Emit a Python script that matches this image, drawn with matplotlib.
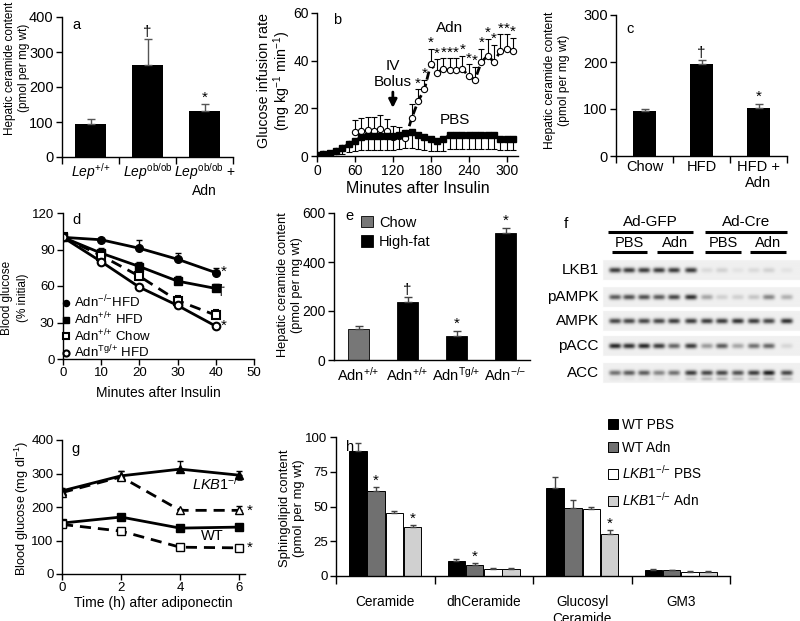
import numpy as np
import matplotlib.pyplot as plt

plt.rcParams['font.family'] = ['Liberation Sans', 'DejaVu Sans']
plt.rcParams['mathtext.fontset'] = 'custom'
plt.rcParams['mathtext.rm'] = 'Liberation Sans'
plt.rcParams['mathtext.it'] = 'Liberation Sans:italic'
plt.rcParams['font.size'] = 10
plt.rcParams['axes.linewidth'] = 1.0

# ---- data ----
# a
a_labels = [r'$\mathit{Lep}^{{+}/{+}}$', r'$\mathit{Lep}^{\mathrm{ob/ob}}$',
            r'$\mathit{Lep}^{\mathrm{ob/ob}}$ +' + '\nAdn']
a_vals = [93, 263, 132]
a_err = [17, 75, 20]
a_marks = ['', '†', '*']

# b
b_time = np.arange(0, 320, 10)
b_pbs = [0.5, 0.7, 1.2, 2.2, 3.5, 5, 6.5, 8, 8.5, 8.5, 8.5, 8.5, 8.5, 9, 9.8, 10,
         9, 8, 7, 6.5, 7, 9, 9, 9, 9, 9, 9, 9, 9, 7, 7, 7]
b_pbs_err = [0.3, 0.4, 0.8, 1.5, 2.5, 3.5, 4.5, 5.5, 6, 6, 6, 6, 6, 6, 6.5, 6.5,
             6, 5.5, 5, 4.5, 5, 6, 6, 6, 6, 6, 6, 6, 6, 4.5, 4.5, 4.5]
b_adn = [0.5, 0.7, 1.0, 2.0, 3.5, 5, 10, 10.5, 11, 10.5, 11.5, 10.5, 8, 8.5, 7.5,
         16, 23, 28, 38.5, 35, 36.5, 36, 36, 36.5, 33.5, 32, 39.5, 42, 39.5, 44, 45, 44]
b_adn_err = [0, 0, 0, 0, 0, 0, 5, 5.5, 5.5, 6, 5.5, 5, 4.5, 3.5, 3,
             6, 5, 4, 6.5, 5.5, 4.5, 5, 5, 5.5, 5, 5.5, 5.5, 7, 7, 7, 6, 5.5]
b_line_from = 140
b_star_from = 160

# c
c_labels = ['Chow', 'HFD', 'HFD +\nAdn']
c_vals = [95, 195, 102]
c_err = [6, 10, 9]
c_marks = ['', '†', '*']

# d
d_time = [0, 10, 20, 30, 40]
d_ko_hfd = [100, 98, 91, 82, 71]
d_ko_hfd_err = [0, 0, 7, 5, 4]
d_wt_hfd = [100, 87, 76, 64, 58]
d_wt_hfd_err = [0, 4, 4, 4, 4]
d_wt_chow = [100, 85, 68, 48, 36]
d_wt_chow_err = [0, 0, 3, 4, 4]
d_tg_hfd = [100, 80, 59, 44, 27]
d_tg_hfd_err = [0, 0, 0, 0, 0]

# e
e_labels = [r'Adn$^{{+}/{+}}$', r'Adn$^{{+}/{+}}$', r'Adn$^{\mathrm{Tg}/{+}}$', r'Adn$^{{-}/{-}}$']
e_vals = [127, 238, 100, 520]
e_err = [10, 20, 20, 20]
e_diet = ['Chow', 'High-fat', 'High-fat', 'High-fat']
e_marks = ['', '†', '*', '*']

# f (band darkness per lane, 0..1)
f_rows = ['LKB1', 'pAMPK', 'AMPK', 'pACC', 'ACC']
f_lkb1 = [0.85, 0.85, 0.85, 0.85, 0.85, 0.85, 0.10, 0.14, 0.06, 0.10, 0.14, 0.06]
f_pampk = [0.70, 0.75, 0.75, 0.70, 0.80, 0.90, 0.35, 0.15, 0.15, 0.20, 0.50, 0.30]
f_ampk = [0.80, 0.80, 0.80, 0.80, 0.85, 0.85, 0.85, 0.85, 0.90, 0.85, 0.80, 0.90]
f_pacc = [0.95, 0.90, 0.95, 0.85, 0.65, 0.85, 0.40, 0.70, 0.35, 0.60, 0.65, 0.12]
f_acc = [0.60, 0.70, 0.70, 0.50, 0.60, 0.85, 0.80, 0.80, 0.75, 0.85, 1.00, 0.80]
f_acc_low = [0.05, 0.05, 0.05, 0.05, 0.05, 0.15, 0.25, 0.25, 0.20, 0.20, 0.25, 0.20]

# g
g_time = [0, 2, 4, 6]
g_wt_pbs = [152, 170, 137, 140]
g_wt_adn = [148, 128, 80, 78]
g_ko_pbs = [248, 293, 313, 295]
g_ko_pbs_err = [10, 15, 24, 13]
g_ko_adn = [243, 290, 190, 190]
g_ko_adn_err = [12, 18, 5, 13]

# h
h_groups = ['Ceramide', 'dhCeramide', 'Glucosyl\nCeramide', 'GM3']
h_series = ['WT PBS', 'WT Adn', r'$\mathit{LKB1}^{{-}/{-}}$ PBS', r'$\mathit{LKB1}^{{-}/{-}}$ Adn']
h_wt_pbs = [90, 11, 63, 4.5]
h_wt_pbs_err = [6, 1, 8, 0.5]
h_wt_adn = [61, 8, 49, 4]
h_wt_adn_err = [3, 1, 6, 0.4]
h_ko_pbs = [45, 5, 48, 3]
h_ko_pbs_err = [2, 0.5, 2, 0.3]
h_ko_adn = [35, 5, 30, 3]
h_ko_adn_err = [2, 0.5, 3, 0.3]
h_marks = [['', '', '', ''], ['*', '*', '', ''], ['', '', '', ''], ['*', '', '*', '']]

W, H = 800, 621
fig = plt.figure(figsize=(W / 100, H / 100), dpi=100)


def box(l, t, r, b):
    return [l / W, 1 - b / H, (r - l) / W, (b - t) / H]


def style(ax, size):
    for s in ['top', 'right']:
        ax.spines[s].set_visible(False)
    ax.tick_params(direction='out', length=4, width=1, labelsize=size, pad=2)


def ylab(x, y, text, size, ls=1.2):
    # y label placed by its centre in pixel coordinates
    fig.text(x / W, 1 - y / H, text, rotation=90, ha='center', va='center',
             fontsize=size, linespacing=ls, multialignment='center')


def cat_axis(ax, labels, size, ticklen=5, pad=3):
    n = len(labels)
    ax.set_xlim(-0.5, n - 0.5)
    ax.set_xticks(np.arange(n + 1) - 0.5)
    ax.set_xticklabels([])
    ax.set_xticks(np.arange(n), minor=True)
    ax.set_xticklabels(labels, minor=True)
    ax.tick_params(axis='x', which='minor', length=0, pad=pad, labelsize=size)
    ax.tick_params(axis='x', which='major', length=ticklen)


def marks(ax, x, tops, sym, dy, size=11):
    for xi, t, s in zip(x, tops, sym):
        if s:
            ax.text(xi, t + dy, s, ha='center', va='center', fontsize=size)


# ---- a ----
ax = fig.add_axes(box(62, 17, 233, 157))
style(ax, 10.5)
xa = np.arange(len(a_vals))
ax.bar(xa, a_vals, 0.56, color='black', yerr=[[0] * 3, a_err], capsize=3,
       error_kw=dict(elinewidth=1, capthick=1, ecolor='#555555'))
cat_axis(ax, a_labels, 10)
ax.set_ylim(0, 400)
ax.set_yticks([0, 100, 200, 300, 400])
marks(ax, xa, np.add(a_vals, a_err), a_marks, 18)
ylab(17, 68, 'Hepatic ceramide content\n(pmol per mg wt)', 8.5, 1.3)
ax.text(0.06, 0.94, 'a', transform=ax.transAxes, ha='left', va='center', fontsize=10.5)

# ---- b ----
ax = fig.add_axes(box(317, 13, 518, 156))
style(ax, 10)
z = np.zeros(len(b_time))
late = b_time >= b_line_from
ax.plot(b_time[late], np.array(b_adn)[late], ls=(0, (3, 1.5)), lw=2, color='black')
ax.errorbar(b_time, b_adn, yerr=[z, b_adn_err], fmt='o', color='black', mfc='white',
            mec='black', ms=4.5, mew=0.8, elinewidth=0.8, capsize=2, capthick=0.8)
ax.errorbar(b_time, b_pbs, yerr=[b_pbs_err, z], fmt='s-', lw=1.8,
            color='black', ms=4.2, elinewidth=0.8, capsize=2, capthick=0.8)
for t, v, e in zip(b_time, b_adn, b_adn_err):
    if t >= b_star_from:
        ax.text(t, v + e + 2.5, '*', ha='center', va='center', fontsize=11)
ax.set_xlim(0, 318)
ax.set_ylim(0, 60)
ax.set_xticks([0, 60, 120, 180, 240, 300])
ax.set_yticks([0, 20, 40, 60])
ax.set_xlabel('Minutes after Insulin', labelpad=2, fontsize=11.5)
ylab(275, 81, 'Glucose infusion rate\n(mg kg$^{-1}$ min$^{-1}$)', 10.3, 1.0)
ax.annotate('', xy=(120, 19), xytext=(120, 28),
            arrowprops=dict(arrowstyle='-|>', lw=2, color='black', mutation_scale=12))
ax.text(120, 34.5, 'IV\nBolus', ha='center', va='center', fontsize=11)
ax.text(210, 53.5, 'Adn', ha='center', va='center', fontsize=11)
ax.text(218, 15, 'PBS', ha='center', va='center', fontsize=11)
ax.text(0.08, 0.95, 'b', transform=ax.transAxes, ha='left', va='center', fontsize=10.5)

# ---- c ----
ax = fig.add_axes(box(616, 15, 787, 156))
style(ax, 10.5)
xc = np.arange(len(c_vals))
ax.bar(xc, c_vals, 0.41, color='black', yerr=[[0] * 3, c_err], capsize=3,
       error_kw=dict(elinewidth=1, capthick=1, ecolor='#555555'))
cat_axis(ax, c_labels, 10.5)
ax.set_ylim(0, 300)
ax.set_yticks([0, 100, 200, 300])
marks(ax, xc, np.add(c_vals, c_err), c_marks, 15)
ylab(557, 80, 'Hepatic ceramide content\n(pmol per mg wt)', 8.7, 1.3)
ax.text(0.06, 0.9, 'c', transform=ax.transAxes, ha='left', va='center', fontsize=10.5)

# ---- d ----
ax = fig.add_axes(box(63, 213, 254, 359))
style(ax, 9.5)
kw = dict(color='black', lw=2, capsize=2, elinewidth=1, capthick=1, ms=5.5)
z5 = [0] * 5
ax.errorbar(d_time, d_ko_hfd, yerr=[z5, d_ko_hfd_err], fmt='o-', label=r'Adn$^{{-}/{-}}$HFD', **kw)
ax.errorbar(d_time, d_wt_hfd, yerr=[z5, d_wt_hfd_err], fmt='s-', label=r'Adn$^{{+}/{+}}$ HFD', **kw)
ax.errorbar(d_time, d_wt_chow, yerr=[z5, d_wt_chow_err], fmt='s', ls=(0, (4, 2.5)),
            mfc='white', mew=1.5, label=r'Adn$^{{+}/{+}}$ Chow', **kw)
ax.errorbar(d_time, d_tg_hfd, yerr=[z5, d_tg_hfd_err], fmt='o-', mfc='white', mew=1.5,
            label=r'Adn$^{\mathrm{Tg}/{+}}$ HFD', **kw)
ax.text(42, 72, '*', ha='center', va='center', fontsize=11)
ax.text(41.5, 56, '†', ha='center', va='center', fontsize=11)
ax.text(42, 27, '*', ha='center', va='center', fontsize=11)
ax.set_xlim(0, 50)
ax.set_ylim(0, 120)
ax.set_xticks([0, 10, 20, 30, 40, 50])
ax.set_yticks([0, 30, 60, 90, 120])
ax.set_xlabel('Minutes after Insulin', labelpad=5, fontsize=10)
ylab(15, 298, 'Blood glucose\n(% initial)', 8.5, 1.35)
hd, lb = ax.get_legend_handles_labels()
hd = [h[0] for h in hd]
leg = ax.legend(hd, lb, loc='upper left', bbox_to_anchor=(0.0, 0.445), frameon=False,
                handlelength=0.5, handletextpad=0.3, labelspacing=0.0, borderpad=0,
                borderaxespad=0, fontsize=9.5, markerscale=0.8)
for h in leg.legend_handles:
    h.set_linestyle('none')
ax.text(0.05, 0.95, 'd', transform=ax.transAxes, ha='left', va='center', fontsize=10.5)

# ---- e ----
ax = fig.add_axes(box(334, 213, 530, 360))
style(ax, 10)
xe = np.arange(len(e_vals))
e_col = {'Chow': '#777777', 'High-fat': 'black'}
for i in range(len(e_vals)):
    ax.bar(xe[i], e_vals[i], 0.41, color=e_col[e_diet[i]], edgecolor='black', lw=0.6,
           yerr=[[0], [e_err[i]]], capsize=3,
           error_kw=dict(elinewidth=1, capthick=1, ecolor='#444444'),
           label=e_diet[i] if e_diet[i] not in e_diet[:i] else None)
cat_axis(ax, e_labels, 10.5, ticklen=0, pad=4)
ax.set_ylim(0, 600)
ax.set_yticks([0, 200, 400, 600])
marks(ax, xe, np.add(e_vals, e_err), e_marks, 28)
ylab(290, 285, 'Hepatic ceramide content\n(pmol per mg wt)', 9.2, 1.2)
ax.legend(loc='upper left', bbox_to_anchor=(0.14, 0.98), frameon=False, fontsize=10.5,
          handlelength=0.8, handleheight=0.8, handletextpad=0.4, labelspacing=0.35,
          borderpad=0, borderaxespad=0)
ax.text(0.06, 0.98, 'e', transform=ax.transAxes, ha='left', va='center', fontsize=10.5)

# ---- f ----
ax = fig.add_axes(box(550, 200, 800, 390))
ax.set_xlim(550, 800)
ax.set_ylim(390, 200)
ax.axis('off')
lanes = np.array([615, 629, 644, 659, 674, 691, 707, 722, 738, 754, 769, 787])
rows_y = np.array([270, 297, 321, 346, 373])
xx = np.linspace(600, 800, 500)
yy = np.linspace(255, 390, 340)
X, Y = np.meshgrid(xx, yy)
img = np.ones_like(X)
for ry in rows_y:
    img[(np.abs(Y - ry) < 10) & (X > 603)] = 0.94
dark = np.zeros_like(X)
for ry, vals in zip(rows_y, [f_lkb1, f_pampk, f_ampk, f_pacc, f_acc]):
    for lx, v in zip(lanes, vals):
        dark += v * np.exp(-((X - lx) / 6.0) ** 4 - ((Y - ry) / 2.6) ** 2)
for lx, v in zip(lanes, f_acc_low):
    dark += v * np.exp(-((X - lx) / 6.0) ** 4 - ((Y - rows_y[-1] - 6) / 1.8) ** 2)
img = img * (1 - 0.88 * np.clip(dark, 0, 1))
ax.imshow(img, cmap='gray', vmin=0, vmax=1, extent=(600, 800, 390, 255),
          origin='upper', aspect='auto', interpolation='bilinear')
ax.set_xlim(550, 800)
ax.set_ylim(390, 200)
for name, ry in zip(f_rows, rows_y):
    ax.text(599, ry, name, ha='right', va='center', fontsize=11)
ax.text(566, 224, 'f', ha='center', va='center', fontsize=11)
for label, x0, x1 in [('Ad-GFP', 608, 693), ('Ad-Cre', 705, 787)]:
    ax.plot([x0, x1], [232, 232], color='black', lw=2.2, solid_capstyle='butt')
    ax.text((x0 + x1) / 2, 222, label, ha='center', va='center', fontsize=11)
for label, x0, x1 in [('PBS', 612, 647), ('Adn', 657, 693), ('PBS', 705, 741), ('Adn', 750, 786)]:
    ax.plot([x0, x1], [252, 252], color='black', lw=2.2, solid_capstyle='butt')
    ax.text((x0 + x1) / 2, 243, label, ha='center', va='center', fontsize=10.5)

# ---- g ----
ax = fig.add_axes(box(62, 440, 245, 574))
style(ax, 9.5)
z4 = [0] * 4
kw = dict(color='black', lw=2, capsize=2, elinewidth=1, capthick=1, ms=5.5)
ax.errorbar(g_time, g_ko_pbs, yerr=[z4, g_ko_pbs_err], fmt='^-', **kw)
ax.errorbar(g_time, g_ko_adn, yerr=[z4, g_ko_adn_err], fmt='^', ls=(0, (4, 2.5)),
            mfc='white', mew=1, **kw)
ax.errorbar(g_time, g_wt_pbs, fmt='s-', **kw)
ax.errorbar(g_time, g_wt_adn, fmt='s', ls=(0, (4, 2.5)), mfc='white', mew=1, **kw)
ax.text(6.35, 190, '*', ha='center', va='center', fontsize=11)
ax.text(6.35, 78, '*', ha='center', va='center', fontsize=11)
ax.text(5.3, 268, r'$\mathit{LKB1}^{{-}/{-}}$', ha='center', va='center', fontsize=10.5)
ax.text(5.1, 112, 'WT', ha='center', va='center', fontsize=10.5)
ax.set_xlim(0, 6.2)
ax.set_ylim(0, 400)
ax.set_xticks([0, 2, 4, 6])
ax.set_yticks([0, 100, 200, 300, 400])
ax.set_xlabel('Time (h) after adiponectin', labelpad=1, fontsize=10)
ylab(22, 508, 'Blood glucose (mg dl$^{-1}$)', 9.2)
ax.text(0.05, 0.93, 'g', transform=ax.transAxes, ha='left', va='center', fontsize=10.5)

# ---- h ----
ax = fig.add_axes(box(336, 437, 730, 576))
style(ax, 9.5)
xh = np.arange(len(h_groups))
bw = 0.185
h_vals = [h_wt_pbs, h_wt_adn, h_ko_pbs, h_ko_adn]
h_errs = [h_wt_pbs_err, h_wt_adn_err, h_ko_pbs_err, h_ko_adn_err]
h_cols = ['black', '#707070', 'white', '#d0d0d0']
for k in range(4):
    xk = xh + (k - 1.5) * bw
    ax.bar(xk, h_vals[k], bw * 0.97, color=h_cols[k], edgecolor='black', lw=0.7,
           yerr=[[0] * 4, h_errs[k]], capsize=2,
           error_kw=dict(elinewidth=1, capthick=1, ecolor='#444444'), label=h_series[k])
    marks(ax, xk, np.add(h_vals[k], h_errs[k]), h_marks[k], 4.5)
cat_axis(ax, h_groups, 9.8, ticklen=6, pad=14)
ax.set_ylim(0, 100)
ax.set_yticks([0, 25, 50, 75, 100])
ylab(292, 508, 'Sphingolipid content\n(pmol per mg wt)', 9.4, 1.2)
ax.text(0.025, 0.93, 'h', transform=ax.transAxes, ha='left', va='center', fontsize=10.5)
fig.legend(*ax.get_legend_handles_labels(), loc='upper left',
           bbox_to_anchor=(608 / W, 1 - 418 / H), frameon=False, fontsize=9.8,
           handlelength=0.75, handleheight=0.75, handletextpad=0.25, labelspacing=0.65,
           borderpad=0, borderaxespad=0)

fig.savefig('out.png', dpi=100)
